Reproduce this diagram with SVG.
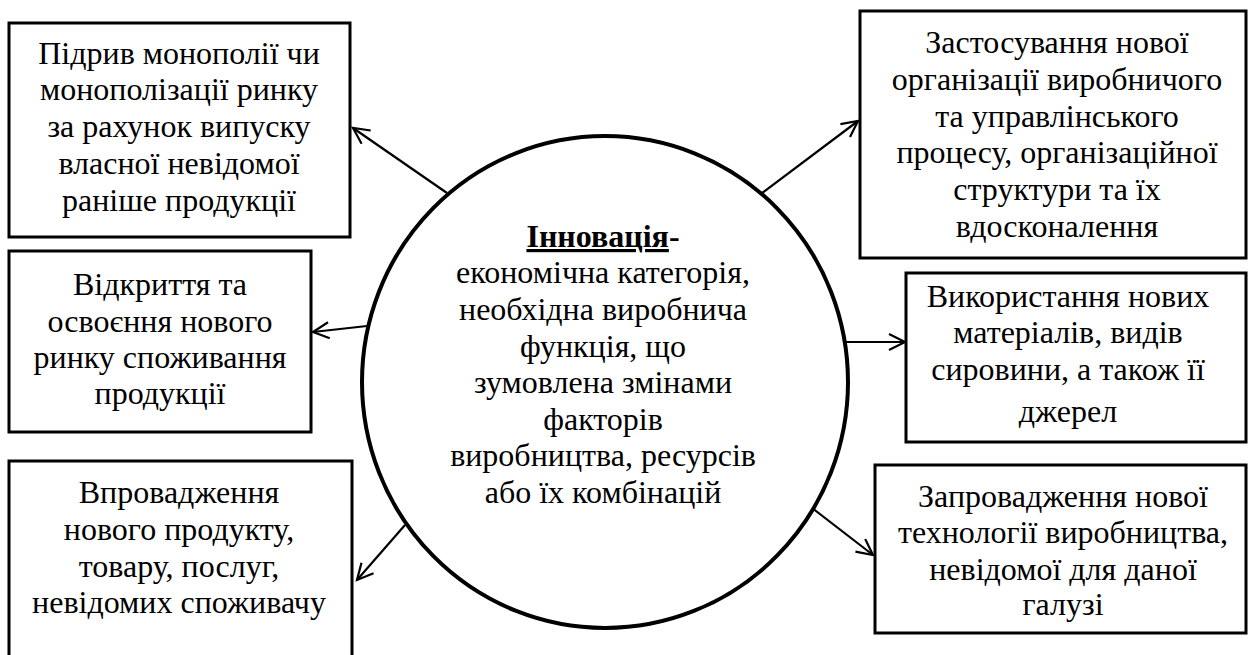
<svg xmlns="http://www.w3.org/2000/svg" width="1248" height="655" viewBox="0 0 1248 655">
<style>
.box{fill:#fff;stroke:#000;stroke-width:3}
text{font-family:'Liberation Serif', 'Times New Roman', Times, serif;font-size:32px;fill:#000;text-anchor:middle}
.c{fill:none;stroke:#000;stroke-width:2.2;marker-end:url(#ah)}
</style>
<defs>
<marker id="ah" markerWidth="22" markerHeight="22" refX="18" refY="9" orient="auto" markerUnits="userSpaceOnUse">
<path d="M2,1 L18,9 L2,17" fill="none" stroke="#000" stroke-width="2.2"/>
</marker>
</defs>
<rect width="1248" height="655" fill="#fff"/>
<g id="connectors">
<line class="c" x1="447" y1="193" x2="353" y2="128"/>
<line class="c" x1="762" y1="193" x2="858" y2="121"/>
<line class="c" x1="367" y1="326" x2="313" y2="332"/>
<line class="c" x1="845" y1="342" x2="905" y2="342"/>
<line class="c" x1="405" y1="525" x2="357" y2="580"/>
<line class="c" x1="812" y1="508" x2="873" y2="555"/>
</g>
<g id="center">
<ellipse cx="605" cy="382" rx="243" ry="246" fill="none" stroke="#000" stroke-width="4"/>
<text x="603" y="247"><tspan font-weight="bold" text-decoration="underline">Інновація</tspan><tspan font-weight="bold">-</tspan></text>
<text x="603" y="283">економічна категорія,</text>
<text x="603" y="320">необхідна виробнича</text>
<text x="603" y="357">функція, що</text>
<text x="603" y="393">зумовлена змінами</text>
<text x="603" y="430">факторів</text>
<text x="603" y="466">виробництва, ресурсів</text>
<text x="603" y="503">або їх комбінацій</text>
</g>
<g id="n1">
<rect class="box" x="9" y="23" width="341" height="214"/>
<text x="179" y="64">Підрив монополії чи</text>
<text x="179" y="100">монополізації ринку</text>
<text x="179" y="137">за рахунок випуску</text>
<text x="179" y="174">власної невідомої</text>
<text x="179" y="211">раніше продукції</text>
</g>
<g id="n2">
<rect class="box" x="9" y="251" width="302" height="181"/>
<text x="160" y="295">Відкриття та</text>
<text x="160" y="332">освоєння нового</text>
<text x="160" y="368">ринку споживання</text>
<text x="160" y="404">продукції</text>
</g>
<g id="n3">
<rect class="box" x="9" y="461" width="343" height="200"/>
<text x="179" y="503">Впровадження</text>
<text x="179" y="540">нового продукту,</text>
<text x="179" y="577">товару, послуг,</text>
<text x="179" y="613">невідомих споживачу</text>
</g>
<g id="n4">
<rect class="box" x="860" y="11" width="386" height="247"/>
<text x="1057" y="53">Застосування нової</text>
<text x="1057" y="90">організації виробничого</text>
<text x="1057" y="127">та управлінського</text>
<text x="1057" y="163">процесу, організаційної</text>
<text x="1057" y="200">структури та їх</text>
<text x="1057" y="237">вдосконалення</text>
</g>
<g id="n5">
<rect class="box" x="906" y="273" width="340" height="169"/>
<text x="1068" y="307">Використання нових</text>
<text x="1068" y="343">матеріалів, видів</text>
<text x="1068" y="380">сировини, а також її</text>
<text x="1068" y="422">джерел</text>
</g>
<g id="n6">
<rect class="box" x="875" y="465" width="371" height="168"/>
<text x="1063" y="507">Запровадження нової</text>
<text x="1063" y="543">технології виробництва,</text>
<text x="1063" y="580">невідомої для даної</text>
<text x="1063" y="615">галузі</text>
</g>
</svg>
